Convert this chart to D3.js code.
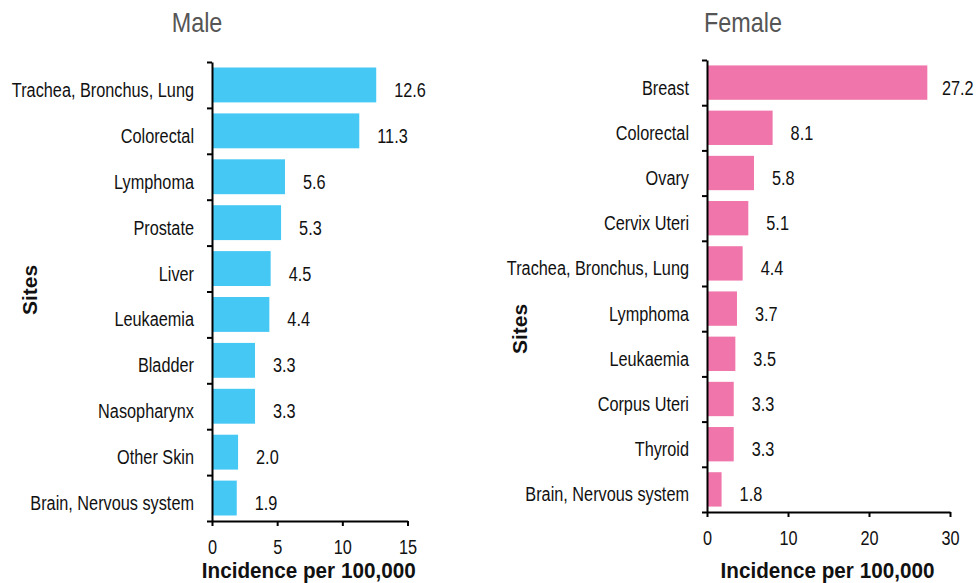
<!DOCTYPE html>
<html>
<head>
<meta charset="utf-8">
<script src="https://cdn.jsdelivr.net/npm/d3@7.9.0/dist/d3.min.js"></script>
<style>
  body { margin: 0; background: #fff; }
  svg text { font-family: "Liberation Sans", Arial, sans-serif; fill: #111; }
  .axis-title { font-weight: bold; }
</style>
</head>
<body>
<svg id="chart" width="978" height="583"></svg>
<script>
const maleSites = ['Trachea, Bronchus, Lung', 'Colorectal', 'Lymphoma', 'Prostate', 'Liver',
  'Leukaemia', 'Bladder', 'Nasopharynx', 'Other Skin', 'Brain, Nervous system'];
const maleValues = [12.6, 11.3, 5.6, 5.3, 4.5, 4.4, 3.3, 3.3, 2.0, 1.9];
const maleTicks = [0, 5, 10, 15];

const femaleSites = ['Breast', 'Colorectal', 'Ovary', 'Cervix Uteri', 'Trachea, Bronchus, Lung',
  'Lymphoma', 'Leukaemia', 'Corpus Uteri', 'Thyroid', 'Brain, Nervous system'];
const femaleValues = [27.2, 8.1, 5.8, 5.1, 4.4, 3.7, 3.5, 3.3, 3.3, 1.8];
const femaleTicks = [0, 10, 20, 30];

// the reference uses a narrow sans; squeeze Liberation Sans horizontally
const squeeze = 0.835;

const svg = d3.select('#chart');

function drawPanel(opts) {
  const { title, sites, values, ticks, color, x0, x1, top, bottom, titleX, sitesY } = opts;
  const g = svg.append('g');

  let x = d3.scaleLinear().domain([0, ticks[ticks.length - 1]]).range([x0, x1]);
  let y = d3.scaleBand().domain(sites).range([top, bottom]).paddingInner(0.24).paddingOuter(0.12);
  let yEdges = d3.scaleLinear().domain([0, sites.length]).range([top, bottom]);

  // bars
  g.selectAll('rect')
    .data(sites)
    .join('rect')
    .attr('x', x(0))
    .attr('y', (d) => y(d))
    .attr('width', (d, i) => x(values[i]) - x(0))
    .attr('height', y.bandwidth())
    .attr('fill', color);

  // category labels
  g.selectAll('.cat')
    .data(sites)
    .join('text')
    .attr('class', 'cat')
    .attr('transform', (d) => `translate(${x0 - 18},${y(d) + y.bandwidth() / 2 + 12}) scale(${squeeze},1)`)
    .attr('text-anchor', 'end')
    .style('font-size', '19.5px')
    .text((d) => d);

  // value labels
  g.selectAll('.val')
    .data(sites)
    .join('text')
    .attr('class', 'val')
    .attr('transform', (d, i) => {
      let lx = Math.min(x(values[i]) + 18, 974 - 32);
      return `translate(${lx},${y(d) + y.bandwidth() / 2 + 12}) scale(${squeeze},1)`;
    })
    .style('font-size', '19.5px')
    .text((d, i) => values[i].toFixed(1));

  // y axis with ticks at band edges
  let yAxis = g.append('g')
    .attr('transform', `translate(${x0},0)`)
    .call(d3.axisLeft(yEdges).ticks(sites.length).tickFormat('').tickSize(5).tickSizeOuter(0));
  yAxis.select('.domain').attr('stroke-width', 2);
  yAxis.selectAll('.tick line').attr('stroke-width', 2);

  // x axis
  let xAxis = g.append('g')
    .attr('transform', `translate(0,${bottom})`)
    .call(d3.axisBottom(x).tickValues(ticks).tickSize(5).tickSizeOuter(0));
  xAxis.select('.domain').attr('stroke-width', 2);
  xAxis.selectAll('.tick line').attr('stroke-width', 2);
  xAxis.selectAll('.tick text')
    .attr('y', 0)
    .attr('dy', null)
    .attr('transform', `translate(0,33) scale(${squeeze},1)`)
    .style('font-size', '19.5px')
    .style('font-family', '"Liberation Sans", Arial, sans-serif')
    .attr('fill', '#111');

  // titles
  g.append('text')
    .attr('transform', `translate(${titleX},32) scale(${squeeze},1)`)
    .attr('text-anchor', 'middle')
    .style('font-size', '28px')
    .style('fill', '#555')
    .text(title);

  g.append('text')
    .attr('class', 'axis-title')
    .attr('transform', `translate(${(x0 + x1) / 2 - 1},578) scale(0.94,1)`)
    .attr('text-anchor', 'middle')
    .style('font-size', '22px')
    .text('Incidence per 100,000');

  g.append('text')
    .attr('class', 'axis-title')
    .attr('transform', `translate(${opts.sitesX},${sitesY}) rotate(-90)`)
    .attr('text-anchor', 'middle')
    .style('font-size', '21px')
    .text('Sites');
}

drawPanel({
  title: 'Male', sites: maleSites, values: maleValues, ticks: maleTicks, color: '#46C8F5',
  x0: 212, x1: 407.5, top: 62, bottom: 521, titleX: 197, sitesX: 37, sitesY: 290
});

drawPanel({
  title: 'Female', sites: femaleSites, values: femaleValues, ticks: femaleTicks, color: '#F075AA',
  x0: 707, x1: 950, top: 60, bottom: 512, titleX: 743, sitesX: 527, sitesY: 329
});
</script>
</body>
</html>
